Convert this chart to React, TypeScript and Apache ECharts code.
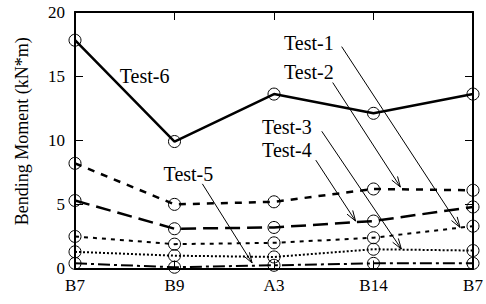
import React, { useEffect, useRef } from 'react';
import * as echarts from 'echarts';

const categories = ['B7', 'B9', 'A3', 'B14', 'B7'];
const test1 = [2.5, 1.9, 2.0, 2.4, 3.3];
const test2 = [8.2, 5.0, 5.2, 6.2, 6.1];
const test3 = [1.3, 1.0, 0.9, 1.5, 1.4];
const test4 = [5.3, 3.1, 3.2, 3.7, 4.8];
const test5 = [0.4, 0.1, 0.25, 0.4, 0.4];
const test6 = [17.8, 9.9, 13.6, 12.1, 13.6];

// annotation labels: text, left x (category index units), y (value units)
const labelTexts = ['Test-1', 'Test-2', 'Test-3', 'Test-4', 'Test-5', 'Test-6'];
const labelX = [2.1, 2.1, 1.88, 1.88, 0.89, 0.45];
const labelY = [17.6, 15.3, 11.0, 9.25, 7.35, 15.0];
// arrows: start / tip in data coordinates (null for none)
const arrowStart: ([number, number] | null)[] = [[2.68, 17.3], [2.59, 14.5], [2.48, 10.7], [2.42, 8.45], [1.28, 6.6], null];
const arrowTip: ([number, number] | null)[] = [[3.87, 3.2], [3.27, 6.35], [3.28, 1.52], [2.82, 3.7], [1.78, 0.43], null];

const FONT = 'Liberation Serif';

export default function App() {
  const ref = useRef<HTMLDivElement>(null);
  useEffect(() => {
    const chart = echarts.init(ref.current!, null, { renderer: 'svg' });
    const mk = (name: string, vals: number[], type: any, width: number) => ({
      name,
      type: 'line',
      data: vals.map((v, i) => [i, v]),
      symbol: 'circle',
      symbolSize: 12,
      itemStyle: { color: 'rgba(0,0,0,0)', borderColor: '#000', borderWidth: 1 },
      lineStyle: { color: '#000', width, type },
      z: 3,
    });
    const xCommon = {
      type: 'value',
      min: 0,
      max: 4,
      interval: 1,
      splitLine: { show: false },
      axisLine: { show: true, onZero: false, lineStyle: { color: '#000', width: 2 } },
      axisTick: { show: true, inside: true, length: 8, lineStyle: { color: '#000', width: 1 } },
    };
    const yCommon = {
      type: 'value',
      min: 0,
      max: 20,
      interval: 5,
      splitLine: { show: false },
      axisLine: { show: true, onZero: false, lineStyle: { color: '#000', width: 2 } },
      axisTick: { show: true, inside: true, length: 8, lineStyle: { color: '#000', width: 1 } },
    };
    chart.setOption({
      animation: false,
      backgroundColor: '#fff',
      grid: { left: 75, right: 13, top: 12, bottom: 35.5, containLabel: false },
      xAxis: [
        {
          ...xCommon,
          position: 'bottom',
          axisLabel: {
            formatter: (v: number) => categories[v] ?? '',
            fontFamily: FONT,
            fontSize: 17,
            color: '#000',
            margin: 8,
          },
        },
        { ...xCommon, position: 'top', axisLabel: { show: false } },
      ],
      yAxis: [
        {
          ...yCommon,
          position: 'left',
          axisLabel: { fontFamily: FONT, fontSize: 17, color: '#000', margin: 10 },
          name: 'Bending Moment (kN*m)',
          nameLocation: 'middle',
          nameGap: 44,
          nameTextStyle: { fontFamily: FONT, fontSize: 18, color: '#000', padding: [0, 0, 0, 18] },
        },
        { ...yCommon, position: 'right', axisLabel: { show: false } },
      ],
      series: [
        mk('Test-1', test1, [4, 5], 2),
        mk('Test-2', test2, [7, 7], 2.5),
        mk('Test-3', test3, [2, 2], 2),
        mk('Test-4', test4, [15, 7], 2.5),
        mk('Test-5', test5, [12, 4, 3, 4], 2),
        mk('Test-6', test6, 'solid', 2.5),
      ],
    });

    const px = (p: [number, number]) => chart.convertToPixel({ gridIndex: 0 }, p) as number[];
    const graphics: any[] = [];
    labelTexts.forEach((t, i) => {
      const p = px([labelX[i], labelY[i]]);
      graphics.push({
        type: 'text',
        x: p[0],
        y: p[1],
        z: 10,
        style: {
          text: t,
          fontFamily: FONT,
          fontSize: 20,
          fill: '#000',
          textAlign: 'left',
          textVerticalAlign: 'middle',
        },
      });
      const s = arrowStart[i];
      const e = arrowTip[i];
      if (s && e) {
        const a = px(s);
        const b = px(e);
        const ang = Math.atan2(b[1] - a[1], b[0] - a[0]);
        const L = 11;
        const phi = (18 * Math.PI) / 180;
        const h1 = [b[0] - L * Math.cos(ang - phi), b[1] - L * Math.sin(ang - phi)];
        const h2 = [b[0] - L * Math.cos(ang + phi), b[1] - L * Math.sin(ang + phi)];
        graphics.push({
          type: 'line',
          z: 10,
          shape: { x1: a[0], y1: a[1], x2: b[0], y2: b[1] },
          style: { stroke: '#000', lineWidth: 1 },
        });
        graphics.push({
          type: 'polyline',
          z: 10,
          shape: { points: [h1, b, h2] },
          style: { stroke: '#000', lineWidth: 1, fill: 'none' },
        });
      }
    });
    chart.setOption({ graphic: graphics });
    return () => chart.dispose();
  }, []);
  return <div ref={ref} style={{ width: 486, height: 304, position: 'absolute', left: 0, top: 0 }} />;
}
